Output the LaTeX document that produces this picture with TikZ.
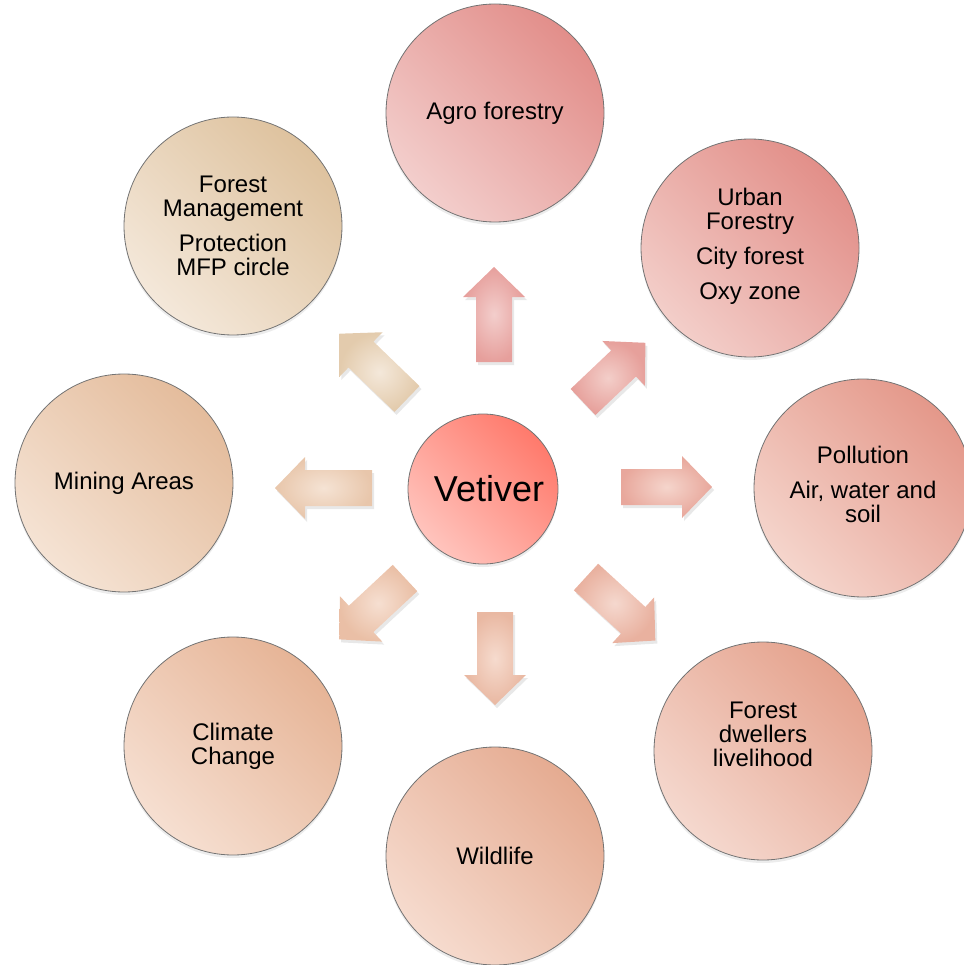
\documentclass[tikz,border=0pt]{standalone}
\usepackage{fontspec}
\setmainfont{Liberation Sans}
\usetikzlibrary{shadows}
\definecolor{agD}{RGB}{226,142,138}\definecolor{agL}{RGB}{243,206,204}
\definecolor{urD}{RGB}{226,143,137}\definecolor{urL}{RGB}{243,206,201}
\definecolor{poD}{RGB}{228,152,138}\definecolor{poL}{RGB}{245,213,204}
\definecolor{dwD}{RGB}{229,163,142}\definecolor{dwL}{RGB}{245,216,206}
\definecolor{wiD}{RGB}{229,171,145}\definecolor{wiL}{RGB}{246,219,206}
\definecolor{clD}{RGB}{230,180,150}\definecolor{clL}{RGB}{246,223,209}
\definecolor{miD}{RGB}{228,188,156}\definecolor{miL}{RGB}{245,227,212}
\definecolor{fmD}{RGB}{222,194,158}\definecolor{fmL}{RGB}{244,232,218}
\definecolor{veD}{RGB}{255,122,108}\definecolor{veL}{RGB}{255,196,189}
\newcommand\blockarr[7]{% name, base x, base y, angle, length, dark, light
  \begin{scope}[shift={(#2,#3)}, rotate=#4]
    \coordinate (#1) at (0,0);
    \path[arrbody, inner color=#7, outer color=#6]
      (0,-18) -- (#5-30,-18) -- (#5-30,-31) -- (#5,0) -- (#5-30,31)
      -- (#5-30,18) -- (0,18) -- cycle;
  \end{scope}}
\begin{document}
\begin{tikzpicture}[x=1pt,y=-1pt,
  bub/.style 2 args={circle, draw=black!55, line width=0.8pt,
    minimum size=218pt, inner sep=0pt, align=center,
    top color=#1, bottom color=#2, shading angle=-45,
    drop shadow={opacity=0.15, shadow xshift=0pt, shadow yshift=-3pt},
    font=\fontsize{24}{24}\selectfont},
  arrbody/.style={drop shadow={opacity=0.18, shadow xshift=2pt, shadow yshift=-3pt}}]
\useasboundingbox (0,0) rectangle (963,965);
% arrows
\blockarr{aup}{494}{362}{90}{95}{agD!85}{agL}
\blockarr{ane}{583}{402}{43.5}{86}{urD!85}{urL}
\blockarr{ari}{621}{487}{0}{91}{poD!85}{poL}
\blockarr{ase}{586}{577}{-42.5}{94}{dwD!85}{dwL}
\blockarr{adn}{495}{612}{-90}{93}{wiD!85}{wiL}
\blockarr{asw}{405}{578}{-137}{90}{clD!85}{clL}
\blockarr{ale}{372}{488}{180}{97}{miD!85}{miL}
\blockarr{anw}{407}{399}{136}{94}{fmD!85}{fmL}
% circles
\node[bub={agD}{agL}] (agro) at (495,113) {Agro forestry};
\node[bub={urD}{urL}] (urban) at (750,248) {Urban\\Forestry\\[11pt]City forest\\[11pt]Oxy zone\\[-16pt]~};
\node[bub={poD}{poL}] (poll) at (863,488) {Pollution\\[11pt]Air, water and\\soil\\[-16pt]~};
\node[bub={dwD}{dwL}] (dwell) at (763,751) {Forest\\dwellers\\livelihood\\[10pt]~};
\node[bub={wiD}{wiL}] (wild) at (495,856) {Wildlife};
\node[bub={clD}{clL}] (clim) at (233,746) {Climate\\Change};
\node[bub={miD}{miL}] (mine) at (124,483) {Mining Areas};
\node[bub={fmD}{fmL}] (fm) at (233,226) {Forest\\Management\\[11pt]Protection\\MFP circle};
\node[bub={veD}{veL}, minimum size=150pt, font=\fontsize{36}{38}\selectfont] (vet) at (483,489) {\hspace*{12pt}Vetiver};
\end{tikzpicture}
\end{document}
